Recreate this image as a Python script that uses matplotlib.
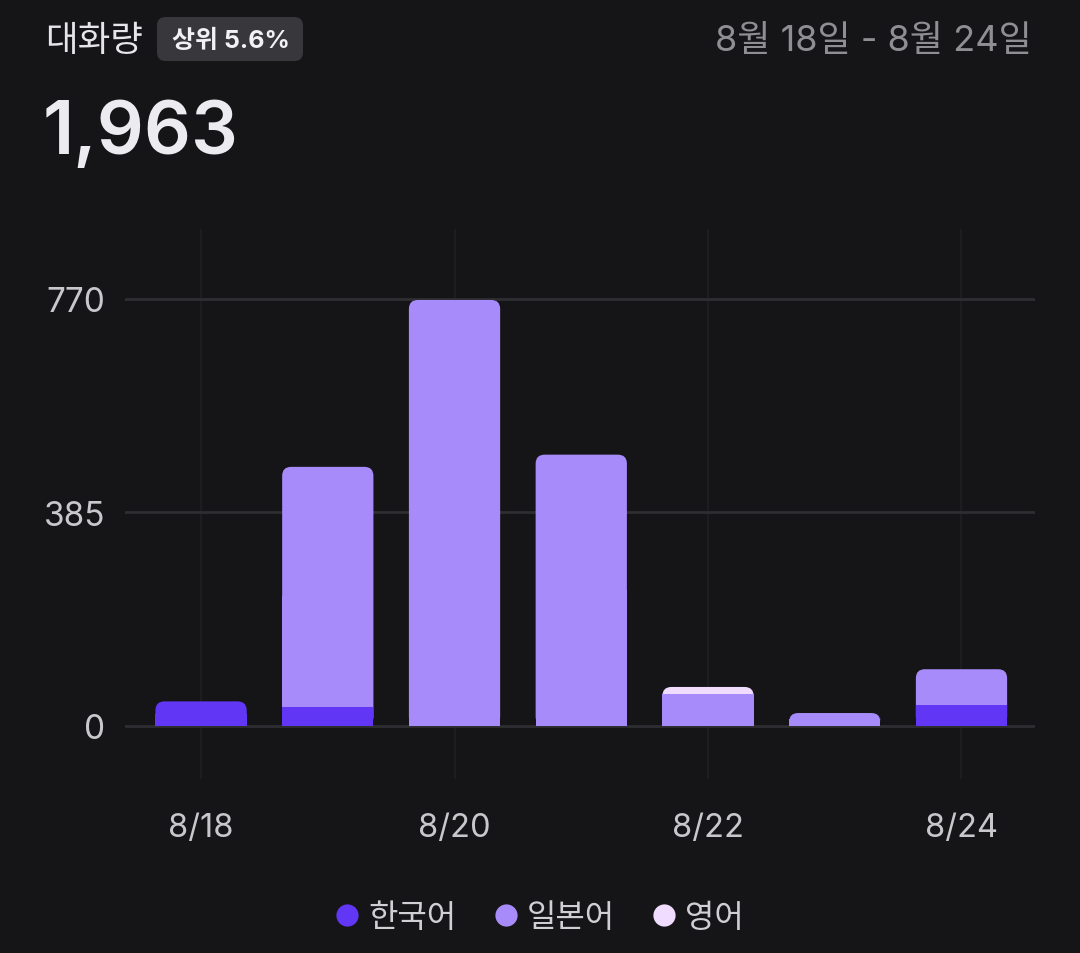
import numpy as np
import matplotlib.pyplot as plt
from matplotlib.patches import FancyBboxPatch, Rectangle

plt.rcParams['font.family'] = ['Inter', 'Noto Sans CJK KR', 'DejaVu Sans']

dates = ['8/18', '8/19', '8/20', '8/21', '8/22', '8/23', '8/24']
korean = [44, 33, 0, 0, 0, 0, 38]
japanese = [0, 434, 768, 489, 57, 23, 64]
english = [0, 0, 0, 0, 13, 0, 0]
series_names = ['한국어', '일본어', '영어']
series_colors = ['#6236f5', '#a88bfa', '#f0dcff']
y_ticks = [0, 385, 770]
x_tick_labels = ['8/18', '8/20', '8/22', '8/24']
total = '1,963'
title = '대화량'
badge = '상위 5.6%'
date_range = '8월 18일 - 8월 24일'

bg = '#151517'
grid_col = '#2e2e32'
bar_w = 0.72

fig = plt.figure(figsize=(10.8, 9.54), dpi=100, facecolor=bg)
ax = fig.add_axes([125 / 1080, 1 - 780 / 954, 910 / 1080, 550 / 954])
ax.set_facecolor(bg)
ax.set_xlim(-0.6, 6.58)
ax.set_ylim(-96, 896)

# px -> data conversion for corner radius
px_x = 7.18 / 910
px_y = 992 / 550
rad = 9
r_x = rad * px_x
r_y = rad * px_y

x = np.arange(len(dates))
stacks = [korean, japanese, english]
for i in range(len(dates)):
    heights = [s[i] for s in stacks]
    total_h = sum(heights)
    top_idx = max(j for j, h in enumerate(heights) if h > 0)
    left = x[i] - bar_w / 2
    # whole stack in the top colour with rounded top, square bottom
    ax.add_patch(FancyBboxPatch((left, 0), bar_w, total_h,
                                boxstyle=f'round,pad=0,rounding_size={r_x}',
                                mutation_aspect=r_y / r_x,
                                fc=series_colors[top_idx], ec='none', zorder=3))
    ax.add_patch(Rectangle((left, 0), bar_w, total_h / 2,
                           fc=series_colors[top_idx], ec='none', zorder=3))
    # lower segments on top
    bottom = 0
    for j, h in enumerate(heights[:top_idx]):
        if h > 0:
            ax.add_patch(Rectangle((left, bottom), bar_w, h,
                                   fc=series_colors[j], ec='none', zorder=4))
        bottom += h

for yt in y_ticks:
    ax.axhline(yt, color=grid_col, lw=2, zorder=1)
for xi, d in enumerate(dates):
    if d in x_tick_labels:
        ax.axvline(xi, color='#1f1f22', lw=1.2, zorder=0)

for s in ax.spines.values():
    s.set_visible(False)
ax.set_yticks(y_ticks)
ax.set_yticklabels([str(v) for v in y_ticks])
ax.set_xticks([dates.index(d) for d in x_tick_labels])
ax.set_xticklabels(x_tick_labels)
ax.tick_params(axis='both', length=0, labelcolor='#c8c8cc')
ax.tick_params(axis='y', pad=14, labelsize=24)
ax.tick_params(axis='x', pad=24, labelsize=23.5)
for lbl in ax.get_yticklabels():
    lbl.set_horizontalalignment('right')

# header
fig.text(45 / 1080, 1 - 42 / 954, title, fontsize=25.5, color='#e6e6ea',
         va='center', ha='left')
badge_box = FancyBboxPatch((157 / 1080, 1 - 62 / 954), 146 / 1080, 44 / 954,
                           boxstyle='round,pad=0,rounding_size=0.008',
                           mutation_aspect=1080 / 954,
                           transform=fig.transFigure, fc='#38383c', ec='none')
fig.patches.append(badge_box)
fig.text(231 / 1080, 1 - 41 / 954, badge, fontsize=18, color='#f2f2f5',
         weight='bold', va='center', ha='center')
fig.text(1032 / 1080, 1 - 42 / 954, date_range, fontsize=26, color='#8e8e93',
         va='center', ha='right')
fig.text(43 / 1080, 1 - 135 / 954, total, fontsize=53, color='#ececf0',
         weight='semibold', va='center', ha='left')

# legend
handles = [plt.Line2D([], [], marker='o', ls='none', ms=16,
                      mfc=c, mec='none') for c in series_colors]
fig.legend(handles, series_names, loc='center', bbox_to_anchor=(0.5, 1 - 919 / 954),
           ncol=3, frameon=False, fontsize=23, labelcolor='#d0d0d4',
           handlelength=0.7, handletextpad=0.3, columnspacing=1.2)

fig.savefig('out.png', dpi=100, facecolor=bg)
